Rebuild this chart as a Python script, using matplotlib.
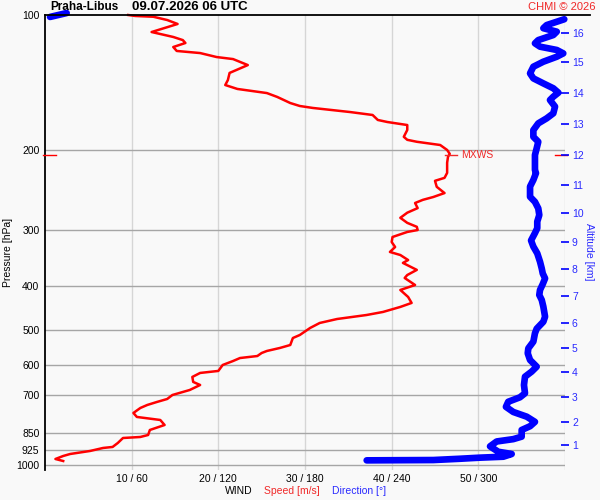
import numpy as np
import matplotlib
matplotlib.use("Agg")
import matplotlib.pyplot as plt
import matplotlib.transforms as mtransforms

# ================= DATA ================= #
STATION = "Praha-Libus"
RUN_TIME = "09.07.2026 06 UTC"

# wind speed profile (hPa, m/s)
SPEED_P = [100.0, 100.5, 100.9, 102.6, 104.7, 109.1, 111.9, 113.7, 115.4, 117.8,
           120.2, 121.5, 124.0, 125.3, 129.2, 134.5, 139.5, 143.1, 146.0, 149.1,
           152.1, 156.9, 159.3, 160.9, 164.3, 166.8, 171.1, 172.9, 175.6, 180.1,
           186.5, 189.4, 191.3, 194.5, 199.5, 203.5, 206.6, 213.0, 224.3, 230.1,
           233.6, 240.9, 248.7, 253.8, 257.5, 261.7, 268.6, 275.0, 282.3, 289.7,
           295.6, 300.5, 303.5, 311.4, 319.5, 327.8, 336.2, 341.5, 350.4, 355.6,
           368.5, 378.3, 384.1, 398.1, 408.4, 423.3, 436.4, 445.4, 457.0, 464.2,
           473.8, 483.5, 495.9, 514.2, 522.2, 541.2, 549.5, 558.0, 563.8, 572.6,
           578.5, 587.4, 599.5, 618.0, 624.4, 637.3, 653.8, 664.1, 681.3, 688.3,
           699.0, 713.4, 724.5, 735.6, 747.0, 766.3, 782.1, 794.3, 814.9, 836.0,
           857.7, 866.5, 871.0, 893.5, 911.9, 916.6, 930.8, 945.3, 955.0, 969.8,
           979.9]
SPEED = [9.6, 10.4, 12.5, 14.1, 15.3, 12.3, 14.8, 15.9, 16.2, 14.8,
         15.2, 17.9, 19.8, 21.7, 23.4, 21.3, 21.1, 20.8, 22.2, 25.6,
         26.8, 28.3, 29.4, 30.9, 35.2, 37.8, 38.4, 39.5, 41.8, 41.8,
         41.4, 41.8, 42.9, 45.6, 46.4, 46.7, 46.5, 46.4, 46.4, 46.1,
         45.0, 45.2, 46.1, 44.8, 43.6, 42.7, 43.0, 41.8, 41.0, 41.8,
         42.9, 43.0, 41.8, 40.1, 40.0, 40.4, 39.8, 41.0, 41.9, 41.3,
         42.9, 41.8, 41.5, 42.7, 41.0, 41.9, 42.3, 41.0, 39.0, 37.1,
         33.7, 31.7, 30.6, 29.4, 28.6, 28.3, 27.1, 25.6, 25.0, 24.5,
         22.5, 21.7, 20.5, 20.0, 17.9, 17.0, 17.1, 17.9, 16.7, 15.9,
         14.7, 14.1, 12.9, 11.8, 11.0, 10.2, 10.6, 13.3, 13.8, 12.1,
         11.9, 11.0, 9.0, 8.4, 7.8, 6.7, 5.2, 2.9, 2.1, 1.2,
         2.1]

# wind direction profile (hPa, deg)
DIR_P = [99.0, 101.0, 102.2, 105.3, 107.0, 108.9, 110.8, 113.7, 115.6, 117.6,
         119.6, 121.7, 123.8, 127.0, 130.3, 134.8, 138.3, 141.9, 145.5, 148.8,
         151.9, 154.5, 159.8, 165.4, 169.7, 174.1, 180.2, 186.5, 191.3, 197.8,
         204.7, 221.0, 224.6, 232.6, 240.6, 253.5, 260.2, 269.0, 278.3, 287.8,
         297.7, 305.2, 317.0, 327.1, 338.6, 353.4, 365.9, 375.3, 384.9, 396.3,
         408.4, 419.0, 429.8, 444.7, 468.2, 480.5, 497.9, 509.7, 531.9, 550.6,
         564.7, 584.4, 604.6, 620.2, 636.5, 664.1, 692.9, 707.3, 723.6, 742.6,
         762.4, 781.0, 802.0, 820.1, 836.0, 865.0, 876.1, 886.7, 909.0, 934.6,
         945.3, 958.6, 963.2, 968.6, 975.0, 976.6]
DIRECTION = [15.0, 3.5, 359.5, 347.3, 345.0, 354.3, 351.9, 341.5, 339.2, 342.7,
             354.3, 358.8, 354.3, 345.0, 338.1, 335.8, 338.1, 345.0, 351.9, 355.4,
             351.9, 349.6, 353.1, 351.9, 347.3, 341.5, 338.1, 338.1, 341.5, 340.4,
             339.2, 339.2, 339.9, 338.1, 335.8, 335.8, 339.2, 341.5, 342.2, 340.8,
             340.8, 339.2, 336.5, 338.1, 340.8, 342.7, 343.9, 344.6, 346.2, 344.6,
             342.7, 342.2, 343.9, 345.0, 346.2, 345.0, 340.4, 339.2, 338.1, 334.6,
             334.2, 335.8, 340.4, 336.9, 332.3, 331.6, 332.3, 328.8, 320.7, 319.1,
             324.2, 333.5, 339.2, 335.8, 330.0, 330.0, 324.2, 312.7, 308.1, 313.8,
             323.1, 317.3, 301.1, 287.3, 268.8, 222.7]

# level of max wind
MXWS_P = 204.7
MXWS_SPEED = 46.7

PRESSURE_TICKS = [100, 200, 300, 400, 500, 600, 700, 850, 925, 1000]
SPEED_TICKS = [10, 20, 30, 40, 50]
SPEED_LABELS = ["10 / 60", "20 / 120", "30 / 180", "40 / 240", "50 / 300"]
ALT_KM = [1, 2, 3, 4, 5, 6, 7, 8, 9, 10, 11, 12, 13, 14, 15, 16]
ALT_P = [901.4, 801.1, 707.3, 622.3, 550.6, 483.5, 421.9, 367.4,
         319.0, 275.8, 238.7, 204.7, 174.4, 149.3, 127.4, 109.5]

# ================= THEME ================= #
BG = "#f9f9f9"
GRID_H = "#a6a6a6"
GRID_V = "#d6d6d6"
RED = "#ff0000"
BLUE = "#0000ff"
LABEL_BLUE = "#2a2aff"
LABEL_RED = "#f02828"
FS = 7.5

plt.rcParams['font.family'] = ['Liberation Sans', 'DejaVu Sans']


def break_wrap(values, pres):
    # put a gap where direction jumps across north
    v_out, p_out = [values[0]], [pres[0]]
    for i in range(1, len(values)):
        if abs(values[i] - values[i - 1]) > 180:
            v_out.append(np.nan)
            p_out.append(np.nan)
        v_out.append(values[i])
        p_out.append(pres[i])
    return np.array(v_out), np.array(p_out)


# ================= FIGURE ================= #
fig = plt.figure(figsize=(6, 5), dpi=100, facecolor=BG)
ax = fig.add_axes([45 / 600, 30 / 500, 520 / 600, 455 / 500])
ax.set_facecolor(BG)

ax.set_yscale('log')
ax.set_ylim(1026, 100)
ax.set_xlim(0, 60)

ax.yaxis.set_minor_locator(matplotlib.ticker.NullLocator())
ax.set_yticks(PRESSURE_TICKS)
ax.set_yticklabels([str(p) for p in PRESSURE_TICKS], fontsize=FS)
ax.set_xticks(SPEED_TICKS)
ax.set_xticklabels(SPEED_LABELS, fontsize=FS)
ax.tick_params(axis='both', length=0)
ax.tick_params(axis='y', pad=4)
ax.tick_params(axis='x', pad=3)

for p in PRESSURE_TICKS[1:]:
    ax.axhline(p, color=GRID_H, lw=1, zorder=1)
for s in SPEED_TICKS + [60]:
    ax.axvline(s, color=GRID_V, lw=1, zorder=0.5)

for side in ['right', 'bottom', 'top']:
    ax.spines[side].set_visible(False)
ax.spines['left'].set_color('black')
ax.spines['left'].set_linewidth(1.3)

# top border runs past the right axis
ax.plot([0, 1.048], [1, 1], transform=ax.transAxes, color='black',
        lw=1.3, clip_on=False, zorder=5)

# speed
ax.plot(SPEED, SPEED_P, color=RED, lw=1.8, zorder=4, clip_on=False)

# direction (0-360 mapped onto 0-60)
d_vals, d_pres = break_wrap(DIRECTION, DIR_P)
ax.plot(d_vals / 6.0, d_pres, color=BLUE, lw=4.8, zorder=3,
        solid_capstyle='round', clip_on=False)

# MXWS marker
blend = mtransforms.blended_transform_factory(ax.transAxes, ax.transData)
ax.plot([-0.004, 0.021], [MXWS_P, MXWS_P], transform=blend, color=RED,
        lw=1, clip_on=False, zorder=6)
ax.plot([0.981, 1.004], [MXWS_P, MXWS_P], transform=blend, color=RED,
        lw=1, clip_on=False, zorder=6)
ax.plot([MXWS_SPEED - 0.6, MXWS_SPEED + 0.8], [MXWS_P, MXWS_P], color=LABEL_RED,
        lw=1, zorder=6)
ax.text(MXWS_SPEED + 1.3, MXWS_P, "MXWS", color=LABEL_RED, fontsize=FS,
        va='center', ha='left', zorder=6)

# altitude axis
ax2 = ax.twinx()
ax2.set_yscale('log')
ax2.set_ylim(ax.get_ylim())
ax2.yaxis.set_minor_locator(matplotlib.ticker.NullLocator())
ax2.set_yticks(ALT_P)
ax2.set_yticklabels([str(a) for a in ALT_KM], fontsize=FS, color=LABEL_BLUE)
ax2.tick_params(axis='y', direction='inout', length=6, width=1.2,
                color=BLUE, pad=2)
for side in ['left', 'right', 'bottom', 'top']:
    ax2.spines[side].set_visible(False)

# ================= TEXT ================= #
fig.text(50 / 600, 1 - 7.5 / 500, STATION, fontsize=8.5, weight='bold',
         ha='left', va='center')
fig.text(132 / 600, 1 - 7.5 / 500, RUN_TIME, fontsize=9.5, weight='bold',
         ha='left', va='center')
fig.text(596 / 600, 1 - 7 / 500, "CHMI © 2026", fontsize=8, color=LABEL_RED,
         ha='right', va='center')

fig.text(8 / 600, 1 - 252 / 500, "Pressure [hPa]", fontsize=FS, rotation=90,
         ha='center', va='center')
fig.text(589 / 600, 1 - 252 / 500, "Altitude [km]", fontsize=FS, rotation=270,
         ha='center', va='center', color=LABEL_BLUE)

fig.text(225 / 600, 1 - 491 / 500, "WIND", fontsize=FS, ha='left', va='center')
fig.text(264 / 600, 1 - 491 / 500, "Speed [m/s]", fontsize=FS, ha='left',
         va='center', color=LABEL_RED)
fig.text(332 / 600, 1 - 491 / 500, "Direction [°]", fontsize=FS, ha='left',
         va='center', color=LABEL_BLUE)

fig.savefig("out.png", dpi=100, facecolor=BG)
